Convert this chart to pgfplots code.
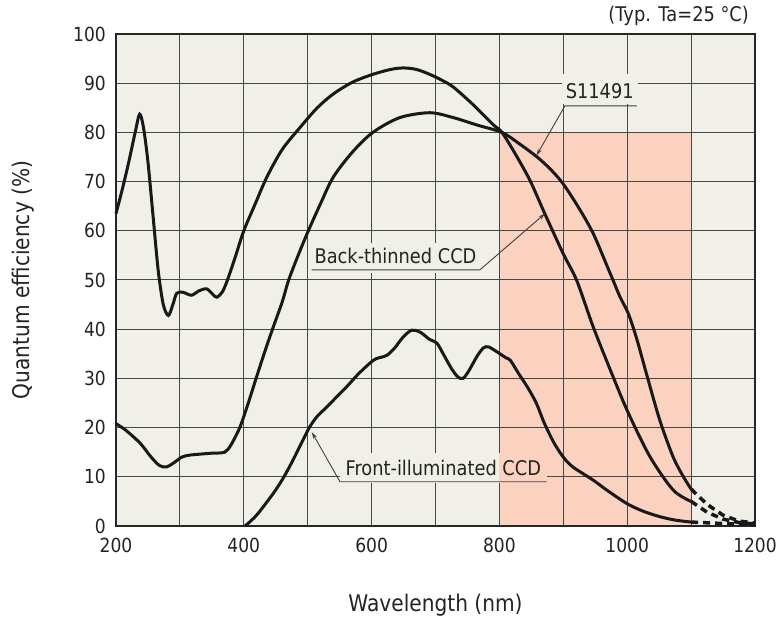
\documentclass[border=0pt]{standalone}
\usepackage{pgfplots}
\pgfplotsset{compat=1.18}
\usepackage{fontspec}
\setmainfont[FakeStretch=0.88]{DejaVu Sans}
\usetikzlibrary{arrows.meta}
\definecolor{bgc}{RGB}{241,240,232}
\definecolor{salmon}{RGB}{251,209,192}
\definecolor{txt}{RGB}{35,35,35}
\newcommand{\tickfont}{\fontsize{19.5}{22}\selectfont}
\newcommand{\labfont}{\fontsize{20.3}{23}\selectfont}
\newcommand{\axfont}{\fontsize{23}{26}\selectfont}
\tikzset{
  curve/.style={draw=black!90, line width=3bp},
  leader/.style={draw=black!75, line width=0.9bp},
}
\begin{document}
\begin{tikzpicture}
\begin{axis}[
  at={(0,0)}, anchor=south west,
  scale only axis, width=639bp, height=492bp,
  xmin=200, xmax=1200, ymin=0, ymax=100,
  set layers,
  axis background/.style={fill=bgc},
  xtick={200,400,...,1200},
  minor xtick={300,500,...,1100},
  ytick={0,10,...,100},
  grid=both,
  major grid style={draw=black!72, line width=1bp},
  minor grid style={draw=black!72, line width=1bp},
  major tick length=0pt, minor tick length=0pt,
  axis line style={draw=black!85, line width=2.6bp},
  /pgf/number format/assume math mode=true,
  /pgf/number format/1000 sep={},
  ticklabel style={font=\tickfont, text=txt},
  yticklabel style={inner sep=0pt, xshift=-10bp},
  xticklabel style={inner sep=0pt, yshift=-12bp},
  xlabel={Wavelength (nm)},
  ylabel={Quantum efficiency (\%)},
  xlabel style={at={(axis description cs:0.5,-0.1606)}, anchor=center, font=\axfont, text=txt},
  ylabel style={at={(axis description cs:-0.1455,0.5)}, anchor=center, font=\axfont, text=txt},
  clip=false,
]
% shaded region
\addplot[fill=salmon, draw=none, on layer=axis background] coordinates {(800,0) (800,80) (1100,80) (1100,0)};

% Back-thinned CCD
\addplot[curve, smooth] coordinates {
(200,63.5) (210,68.5) (220,74) (230,80) (237,83.7) (243,81) (250,74) (258,63) (266,52) (274,45) (282,42.8) (289,45) (295,47.3) (305,47.5) (318,46.9) (330,47.8) (342,48.2) (352,47) (358,46.5) (366,47.5) (373,49.5) (385,54) (400,60) (418,65.5) (436,70.9) (460,76.5) (488,81) (515,85) (540,87.8) (570,90.2) (602,91.8) (630,92.8) (650,93.1) (670,92.8) (691,91.8) (710,90.6) (728,89.2) (760,85.5) (790,81.6) (804,80) (825,75.6) (848,70.2) (871,63.5) (900,55.3) (921,49.9) (947,40.4) (978,30.3) (1002,22.9) (1036,14) (1072,7.3) (1100,5)
};
\addplot[curve, line width=3.5bp, dash pattern=on 7bp off 5bp] coordinates {(1100,5) (1125,2.8) (1150,1.4) (1175,0.7) (1200,0.4)};

% S11491
\addplot[curve, smooth] coordinates {
(200,20.8) (215,19.5) (238,16.8) (255,14) (268,12.3) (279,12) (290,12.8) (303,14) (315,14.4) (331,14.6) (350,14.8) (370,15) (380,16.5) (394,20.1) (407,25) (420,30.3) (433,35.5) (446,40.4) (460,45.5) (470,49.9) (485,55) (501,60) (520,65.5) (540,70.9) (570,76) (602,80) (644,83) (691,84) (728,83) (765,81.5) (804,80) (830,77.8) (859,75) (880,72.5) (900,69.5) (925,64.5) (947,59.4) (968,53) (978,49.9) (989,46.5) (1002,43.1) (1015,38) (1030,31) (1051,21.5) (1072,14) (1088,10) (1100,7.5)
};
\addplot[curve, line width=3.5bp, dash pattern=on 7bp off 5bp] coordinates {(1100,7.5) (1125,4.4) (1150,2.2) (1175,1.0) (1200,0.6)};

% Front-illuminated CCD
\addplot[curve, smooth] coordinates {
(402,0) (420,2.2) (446,6.6) (462,9.8) (477,13.4) (490,16.8) (503,20.1) (515,22.3) (530,24.2) (545,26.2) (561,28.3) (580,31) (603,33.7) (615,34.3) (624,34.7) (635,36) (650,38.5) (663,39.8) (676,39.4) (691,37.9) (702,37.2) (712,35) (725,32) (735,30.3) (743,30) (752,31.5) (765,34.5) (775,36.2) (783,36.4) (795,35.5) (810,34.2) (817,33.7) (830,31) (845,28) (858,24.9) (870,21) (885,17) (900,14) (915,12) (947,9.3) (968,7.3) (999,4.6) (1025,3) (1051,1.9) (1075,1.2) (1100,0.8)
};
\addplot[curve, line width=3.5bp, dash pattern=on 7bp off 5bp] coordinates {(1100,0.8) (1150,0.5) (1200,0.3)};

% labels
\fill[bgc] (axis cs:898,85.8) rectangle (axis cs:1017,91.9);
\node[font=\labfont, text=txt, inner sep=0pt] at (axis cs:957,88.3) {S11491};
\draw[leader, -{Stealth[length=7bp,width=4bp]}] (axis cs:1015,85.4) -- (axis cs:902.6,85.4) -- (axis cs:858,75.3);

\fill[bgc] (axis cs:506,51.4) rectangle (axis cs:770,57.6);
\node[font=\labfont, text=txt, inner sep=0pt] at (axis cs:637.4,54.8) {Back-thinned CCD};
\draw[leader, -{Stealth[length=7bp,width=4bp]}] (axis cs:506.3,52.07) -- (axis cs:769.6,52.07) -- (axis cs:871.4,63.5);

\fill[bgc] (axis cs:550,8.7) rectangle (axis cs:800,14.8);
\fill[salmon] (axis cs:800,8.7) rectangle (axis cs:874,14.8);
\node[font=\labfont, text=txt, inner sep=0pt] at (axis cs:712.2,11.7) {Front-illuminated CCD};
\draw[leader, -{Stealth[length=7bp,width=4bp]}] (axis cs:874,9.0) -- (axis cs:550.5,9.0) -- (axis cs:506.3,19.1);

\node[font=\labfont, text=txt, inner sep=0pt, anchor=east] at (axis description cs:0.9906,1.0366) {(Typ. Ta=25 °C)};
\end{axis}
\path (-116bp,-98bp) rectangle (662bp,526bp);
\end{tikzpicture}
\end{document}
